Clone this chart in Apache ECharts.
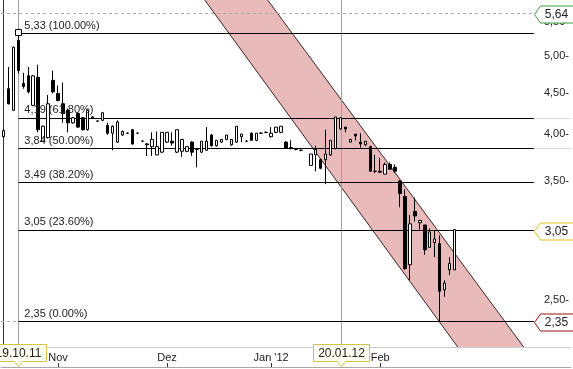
<!DOCTYPE html>
<html><head><meta charset="utf-8">
<script src="https://cdn.jsdelivr.net/npm/echarts/dist/echarts.min.js"></script>
<style>html,body{margin:0;padding:0;background:#fff}#c{width:573px;height:369px}</style>
</head><body><div id="c"></div>
<script>
// ---------- data ----------
const nDays = 115;                       // trading-day slots on the x axis
const firstDay = '2011-10-14';
const holidays = ['2011-10-31', '2011-12-26'];

const opens  = [3.97,4.55,4.28,5.22,4.62,4.72,4.34,4.70,3.92,3.96,4.66,4.49,4.36,4.28,4.13,4.24,4.19,4.05,4.19,4.15,
                4.16,4.10,4.01,3.91,3.99,4.01,4.05,4.01,3.92,3.89,3.86,3.77,3.80,3.91,3.92,3.80,3.81,3.81,3.91,3.83,
                3.80,3.82,3.99,3.87,3.91,3.94,3.88,3.91,3.97,3.92,4.01,3.93,4.01,4.02,3.97,4.02,4.02,3.91,3.85,3.83,
                3.82,null,3.66,3.77,3.72,3.72,3.77,3.84,4.06,4.08,3.91,4.00,3.91,3.88,3.86,3.60,3.60,3.57,3.67,3.64,
                3.50,3.35,2.76,3.21,3.11,3.09,2.90,2.94,2.93,2.57,2.72,2.72];
const highs  = [4.05,4.84,5.13,5.33,4.76,4.84,4.73,4.87,4.10,4.47,4.79,4.59,4.63,4.30,4.20,4.25,4.20,4.29,4.21,4.16,
                4.26,4.13,4.10,4.16,4.04,4.02,4.06,4.02,3.93,3.90,4.02,4.03,4.02,4.02,4.02,4.05,3.94,3.86,3.92,3.84,
                3.92,4.08,4.00,3.93,3.94,3.99,3.94,4.09,4.00,3.93,4.02,4.01,4.02,4.03,4.08,4.08,4.09,3.92,3.93,3.84,
                3.83,null,3.78,3.87,3.73,4.05,3.93,4.20,4.19,4.08,3.94,4.00,4.01,3.92,3.87,3.77,3.74,3.69,3.69,3.67,
                3.51,3.42,3.18,3.34,3.13,3.09,3.06,3.04,3.00,2.64,2.82,3.05];
const lows   = [3.96,4.35,4.27,4.75,4.55,4.49,4.33,4.02,3.91,3.95,4.49,4.39,4.13,4.02,4.12,4.07,4.04,4.04,4.18,4.14,
                4.15,3.99,3.82,3.90,3.98,4.00,3.88,4.00,3.91,3.76,3.76,3.77,3.79,3.90,3.87,3.79,3.75,3.80,3.76,3.64,
                3.79,3.82,3.86,3.86,3.90,3.93,3.87,3.90,3.91,3.91,3.93,3.92,4.00,4.01,3.96,4.01,4.01,3.84,3.83,3.82,
                3.81,null,3.66,3.60,3.62,3.47,3.76,3.83,4.05,4.02,3.90,3.93,3.85,3.87,3.60,3.58,3.58,3.57,3.62,3.58,
                3.25,2.72,2.64,3.12,3.05,2.84,2.90,2.82,2.35,2.52,2.68,2.72];
const closes = [4.04,4.36,5.12,4.79,4.58,4.51,4.72,4.05,4.09,4.36,4.51,4.40,4.24,4.13,4.19,4.08,4.05,4.28,4.20,4.15,
                4.25,4.01,4.09,4.14,4.03,4.01,3.89,4.01,3.92,3.88,3.94,3.86,4.02,4.02,3.90,4.05,3.94,3.86,3.80,3.83,
                3.92,3.92,3.87,3.93,3.94,3.99,3.94,4.09,4.00,3.92,3.93,4.01,4.01,4.02,4.01,4.08,4.09,3.84,3.84,3.83,
                3.82,null,3.78,3.83,3.63,3.78,3.93,4.20,4.19,4.06,3.94,3.98,3.89,3.92,3.60,3.60,3.59,3.67,3.62,3.60,
                3.38,2.73,3.10,3.17,3.13,2.88,3.03,2.97,2.56,2.62,2.77,3.05];

const yMinPrice = 2.185, yMaxPrice = 5.854;
const yTickValues = [2.5, 3.0, 3.5, 4.0, 4.5, 5.0, 5.5];

const xTickDates  = ['2011-11-01', '2011-12-01', '2012-01-02', '2012-02-01'];
const xTickLabels = ['Nov', 'Dez', "Jan '12", 'Feb'];

const fibValues = [5.33, 4.19, 3.84, 3.49, 3.05, 2.35];
const fibPct    = ['100.00%', '61.80%', '50.00%', '38.20%', '23.60%', '0.00%'];
const fibStartDate = '2011-10-19';
const fibEndSlot = 107;

const markerDates  = ['2011-10-19', '2012-01-20'];
const markerLabels = ['19.10.11', '20.01.12'];

const priceTagValues = [5.64, 3.05, 2.35];
const priceTagColors = ['#3f9f3f', '#e2c21c', '#9a1010'];
const highDashedValue = 5.64;
const extensionValues = [4.19, 3.84];

// trend channel anchors [day slot, price]
const channelLower = [[40.6, 5.854], [91.65, 2.185]];
const channelUpper = [[53.3, 5.854], [104.96, 2.185]];

// ---------- build ----------
const ln = Math.log;
const dates = [];
(function () {
  const d = new Date(firstDay + 'T00:00:00Z');
  while (dates.length < nDays) {
    const wd = d.getUTCDay();
    const s = d.toISOString().slice(0, 10);
    if (wd !== 0 && wd !== 6 && holidays.indexOf(s) < 0) dates.push(s);
    d.setUTCDate(d.getUTCDate() + 1);
  }
})();
const candleData = dates.map((_, i) =>
  (i < opens.length && opens[i] != null) ? [ln(opens[i]), ln(closes[i]), ln(lows[i]), ln(highs[i])] : '-');

const fmt = v => v.toFixed(2).replace('.', ',');
const FONT = 'Liberation Sans, Arial, sans-serif';
const fibStart = dates.indexOf(fibStartDate);
const xMin = -0.5, xMax = nDays - 0.5;

const chart = echarts.init(document.getElementById('c'), null, {renderer: 'canvas'});
chart.setOption({
  animation: false,
  backgroundColor: '#ffffff',
  grid: {left: 1, right: 2, top: 0, bottom: 22, containLabel: false},
  xAxis: [
    {type: 'category', data: dates, boundaryGap: true,
     axisLine: {show: true, lineStyle: {color: '#cfcfcf', width: 1}},
     axisTick: {show: false},
     axisLabel: {interval: (i, v) => xTickDates.indexOf(v) >= 0,
                 formatter: v => xTickLabels[xTickDates.indexOf(v)] || '',
                 fontSize: 11, color: '#222', fontFamily: FONT, margin: 5},
     splitLine: {show: false}},
    {type: 'value', min: xMin, max: xMax, show: false},
    {type: 'category', data: dates, boundaryGap: true, position: 'bottom', offset: 20,
     axisLine: {show: true, lineStyle: {color: '#a8a8a8'}},
     axisTick: {show: true, inside: true, length: 4, alignWithLabel: true,
                interval: (i, v) => xTickDates.indexOf(v) >= 0, lineStyle: {color: '#333'}},
     axisLabel: {show: false}, splitLine: {show: false}}
  ],
  yAxis: [{
    type: 'value', position: 'right', min: ln(yMinPrice), max: ln(yMaxPrice),
    axisLine: {show: true, lineStyle: {color: '#333', width: 1}},
    axisTick: {show: false},
    splitLine: {show: false},
    axisLabel: {inside: true, margin: 2, customValues: yTickValues.map(ln),
                formatter: v => fmt(Math.exp(v)) + '-',
                fontSize: 11, color: '#222', fontFamily: FONT}
  }],
  series: [
    { // trend channel
      type: 'custom', xAxisIndex: 1, yAxisIndex: 0, z: 1, clip: true, silent: true,
      data: [[0, ln(3)]],
      renderItem: (p, api) => {
        const L0 = api.coord([channelLower[0][0], ln(channelLower[0][1])]);
        const L1 = api.coord([channelLower[1][0], ln(channelLower[1][1])]);
        const U0 = api.coord([channelUpper[0][0], ln(channelUpper[0][1])]);
        const U1 = api.coord([channelUpper[1][0], ln(channelUpper[1][1])]);
        return {type: 'group', children: [
          {type: 'polygon', shape: {points: [L0, U0, U1, L1]}, style: {fill: '#e8baba'}},
          {type: 'line', shape: {x1: L0[0], y1: L0[1], x2: L1[0], y2: L1[1]}, style: {stroke: '#3a2626', lineWidth: 1}},
          {type: 'line', shape: {x1: U0[0], y1: U0[1], x2: U1[0], y2: U1[1]}, style: {stroke: '#3a2626', lineWidth: 1}}
        ]};
      }
    },
    { // reference lines
      type: 'custom', xAxisIndex: 1, yAxisIndex: 0, z: 2, clip: true, silent: true,
      data: [[0, ln(3)]],
      renderItem: (p, api) => {
        const ch = [];
        const top = api.coord([0, ln(yMaxPrice)])[1], bot = api.coord([0, ln(yMinPrice)])[1];
        markerDates.forEach(ds => {
          const x = Math.round(api.coord([dates.indexOf(ds), 0])[0]) + 0.5;
          ch.push({type: 'line', shape: {x1: x, y1: top, x2: x, y2: bot}, style: {stroke: '#a0a0a0', lineWidth: 1}});
        });
        const hy = Math.round(api.coord([0, ln(highDashedValue)])[1]) + 0.5;
        const xe = api.coord([fibEndSlot, 0])[0];
        ch.push({type: 'line', shape: {x1: api.coord([xMin, 0])[0], y1: hy, x2: xe, y2: hy},
                 style: {stroke: '#aaaaaa', lineWidth: 1, lineDash: [3, 3]}});
        extensionValues.forEach(v => {
          const y = Math.round(api.coord([0, ln(v)])[1]) + 0.5;
          ch.push({type: 'line', shape: {x1: xe, y1: y, x2: api.coord([xMax, 0])[0], y2: y}, style: {stroke: '#d8d8d8', lineWidth: 1}});
        });
        const xs = api.coord([fibStart, 0])[0];
        fibValues.forEach(v => {
          const y = Math.round(api.coord([0, ln(v)])[1]) + 0.5;
          ch.push({type: 'line', shape: {x1: xs, y1: y, x2: xe, y2: y}, style: {stroke: '#000', lineWidth: 1}});
        });
        const ly = Math.round(api.coord([0, ln(fibValues[fibValues.length - 1])])[1]) + 0.5;
        ch.push({type: 'line', shape: {x1: api.coord([xMin, 0])[0], y1: ly, x2: xs, y2: ly},
                 style: {stroke: '#aaaaaa', lineWidth: 1, lineDash: [3, 3]}});
        return {type: 'group', children: ch};
      }
    },
    {
      type: 'candlestick', xAxisIndex: 0, yAxisIndex: 0, z: 3, barWidth: 3,
      data: candleData,
      itemStyle: {color: '#ffffff', color0: '#000000', borderColor: '#000000', borderColor0: '#000000',
                  borderColorDoji: '#000000', borderWidth: 1}
    },
    { // fib labels and anchor square
      type: 'custom', xAxisIndex: 1, yAxisIndex: 0, z: 4, clip: false, silent: true,
      data: [[0, ln(3)]],
      renderItem: (p, api) => {
        const ch = [];
        const xs = api.coord([fibStart, 0])[0];
        fibValues.forEach((v, k) => {
          const y = api.coord([0, ln(v)])[1];
          ch.push({type: 'text', style: {text: fmt(v) + ' (' + fibPct[k] + ')', x: xs + 6, y: y - 2,
                   textAlign: 'left', textVerticalAlign: 'bottom', fill: '#222', font: '11px ' + FONT}});
        });
        const sq = api.coord([fibStart, ln(fibValues[0])]);
        ch.push({type: 'rect', shape: {x: Math.round(sq[0]) - 2.5, y: Math.round(sq[1]) - 3.5, width: 6, height: 6},
                 style: {fill: '#fff', stroke: '#000', lineWidth: 1}});
        return {type: 'group', children: ch};
      }
    },
    { // price tags
      type: 'custom', xAxisIndex: 1, yAxisIndex: 0, z: 6, clip: false, silent: true,
      data: priceTagValues.map((v, k) => [fibEndSlot, ln(v), k]),
      renderItem: (p, api) => {
        const k = api.value(2);
        const pt = api.coord([api.value(0), api.value(1)]);
        const x = Math.round(pt[0]) + 0.5, y = Math.round(pt[1]) + 1.5;
        const h = 8.5, xr = x + 45;
        return {type: 'group', children: [
          {type: 'polygon', shape: {points: [[x, y], [x + 6, y - h], [xr, y - h], [xr, y + h], [x + 6, y + h]]},
           style: {fill: '#ffffff', stroke: priceTagColors[k], lineWidth: 1}},
          {type: 'text', style: {text: fmt(priceTagValues[k]), x: x + 22, y: y + 0.5, textAlign: 'center',
           textVerticalAlign: 'middle', fill: '#222', font: '12px ' + FONT}}
        ]};
      }
    },
    { // date tags
      type: 'custom', xAxisIndex: 1, yAxisIndex: 0, z: 6, clip: false, silent: true,
      data: markerDates.map((ds, k) => [dates.indexOf(ds), ln(yMinPrice), k]),
      renderItem: (p, api) => {
        const k = api.value(2);
        const pt = api.coord([api.value(0), api.value(1)]);
        const cx = Math.round(pt[0]) + 0.5, t = Math.round(pt[1]) - 2.5, b = t + 17;
        return {type: 'group', children: [
          {type: 'polygon', shape: {points: [[cx - 28, t], [cx + 28, t], [cx + 28, b], [cx + 4, b], [cx, b + 5], [cx - 4, b], [cx - 28, b]]},
           style: {fill: '#fffff4', stroke: '#d9c04a', lineWidth: 1}},
          {type: 'text', style: {text: markerLabels[k], x: cx, y: t + 9, textAlign: 'center',
           textVerticalAlign: 'middle', fill: '#222', font: '12px ' + FONT}}
        ]};
      }
    }
  ]
});
</script>
</body></html>
